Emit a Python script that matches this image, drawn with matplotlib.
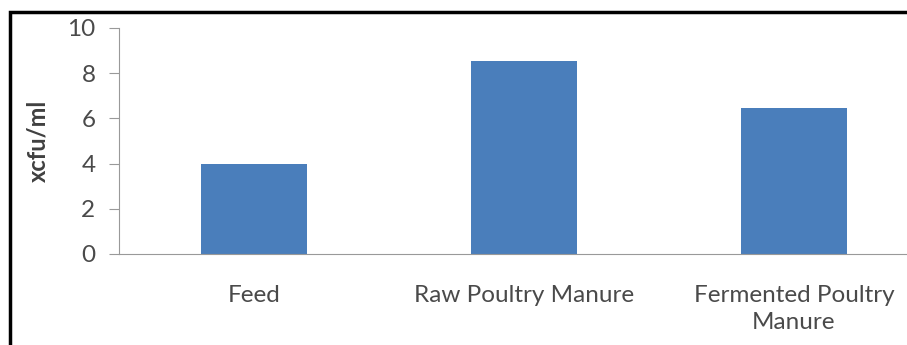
import matplotlib.pyplot as plt
from matplotlib.patches import Rectangle

categories = ['Feed', 'Raw Poultry Manure', 'Fermented Poultry\nManure']
values = [4.0, 8.55, 6.45]
yticks = [0, 2, 4, 6, 8, 10]

plt.rcParams['font.family'] = ['Lato', 'DejaVu Sans']

fig = plt.figure(figsize=(9.07, 3.45), dpi=100)
ax = fig.add_axes([119/907, 1-254/345, 810/907, 226/345])

x = range(len(categories))
ax.bar(x, values, width=0.39, color='#4a7ebb')
ax.set_xlim(-0.5, 2.5)
ax.set_ylim(0, 10)
ax.set_yticks(yticks)
ax.set_xticks(list(x))
ax.set_xticklabels(categories, fontsize=17.5, color='#4a4a4a', linespacing=1.38)
ax.tick_params(axis='x', length=0, pad=22)
ax.tick_params(axis='y', length=7, color='#999999', labelsize=17.5, labelcolor='#4a4a4a', pad=10)
ax.set_ylabel('xcfu/ml', fontsize=17, fontweight='bold', color='#404040', labelpad=13)

for s in ['top', 'right']:
    ax.spines[s].set_visible(False)
ax.spines['left'].set_color('#999999')
ax.spines['bottom'].set_color('#999999')

# black frame around the chart (cropped on the right and bottom)
fig.patches.append(Rectangle((10/907, -0.2), 1.2, 1-12/345+0.2, transform=fig.transFigure,
                             fill=False, edgecolor='black', linewidth=2.5))

fig.savefig('out.png', dpi=100)
